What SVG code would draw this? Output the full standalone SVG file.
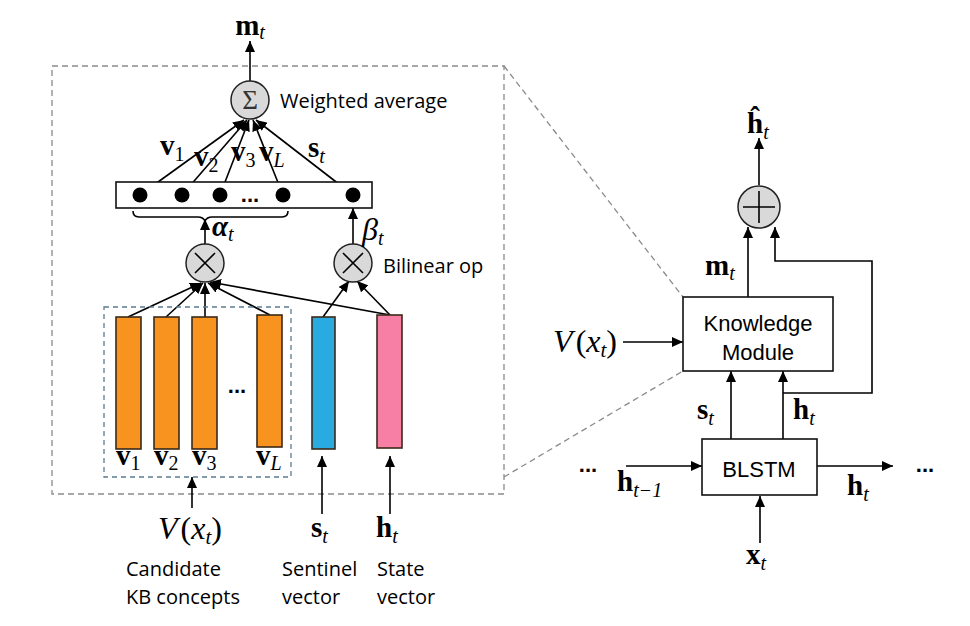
<svg xmlns="http://www.w3.org/2000/svg" width="970" height="626" viewBox="0 0 970 626">
<defs>
<marker id="ah" markerUnits="userSpaceOnUse" markerWidth="11" markerHeight="10" refX="11" refY="5" orient="auto">
<path d="M0,0 L11,5 L0,10 z" fill="#000"/>
</marker>
<style>
.dash{fill:none;stroke:#8a8a8a;stroke-width:1.3;stroke-dasharray:6,4}
.idash{fill:none;stroke:#5b7c93;stroke-width:1.3;stroke-dasharray:5,4}
.ln{fill:none;stroke:#000;stroke-width:1.6}
.ar{fill:none;stroke:#000;stroke-width:1.6;marker-end:url(#ah)}
.op{fill:#d9d9d9;stroke:#222;stroke-width:1.5}
.box{fill:#fff;stroke:#111;stroke-width:1.6}
.bar{stroke:#3b2a1a;stroke-width:1.6}
.sans{font-family:"Open Sans","Liberation Sans",sans-serif;font-size:20px;fill:#000}
.hel{font-family:"Liberation Sans",Arial,sans-serif;font-size:22px;fill:#000}
.m{font-family:"Liberation Serif","DejaVu Serif",serif;font-size:29px;font-weight:bold;fill:#000}
.sub{font-size:20px;font-weight:normal;font-style:italic}
.subn{font-size:20px;font-weight:normal;font-style:normal}
.it{font-family:"Liberation Serif","DejaVu Serif",serif;font-size:32px;font-style:italic;fill:#000}
.rm{font-style:normal}
.dots{font-family:"Liberation Sans",Arial,sans-serif;font-size:22px;font-weight:bold;fill:#000}
</style>
</defs>

<g id="zoom-frame">
<rect class="dash" x="52" y="66" width="452" height="428"/>
<line class="dash" x1="504" y1="66" x2="683" y2="297"/>
<line class="dash" x1="504" y1="477" x2="683" y2="371"/>
</g>

<g id="connectors">
<line class="ar" x1="250" y1="81" x2="250" y2="41"/>
<line class="ar" x1="140" y1="195" x2="244" y2="120"/>
<line class="ar" x1="182" y1="195" x2="247" y2="120"/>
<line class="ar" x1="220" y1="195" x2="249" y2="120"/>
<line class="ar" x1="283" y1="195" x2="253" y2="120"/>
<line class="ar" x1="353" y1="195" x2="256" y2="120"/>
<path class="ln" d="M133,211 Q133,217 139,217 L198,217 Q203,217 205,221 Q207,217 212,217 L282,217 Q288,217 288,211"/>
<line class="ar" x1="205" y1="244" x2="205" y2="219"/>
<line class="ar" x1="353" y1="244" x2="353" y2="208"/>
<line class="ar" x1="128" y1="317" x2="201" y2="283"/>
<line class="ar" x1="166" y1="317" x2="203" y2="283"/>
<line class="ar" x1="205" y1="317" x2="205" y2="283"/>
<line class="ar" x1="270" y1="315" x2="208" y2="283"/>
<line class="ar" x1="390" y1="315" x2="210" y2="282"/>
<line class="ar" x1="323" y1="317" x2="349" y2="281"/>
<line class="ar" x1="390" y1="315" x2="357" y2="281"/>
<line class="ar" x1="192" y1="508" x2="192" y2="477"/>
<line class="ar" x1="322" y1="514" x2="322" y2="456"/>
<line class="ar" x1="390" y1="514" x2="390" y2="456"/>
<line class="ar" x1="759" y1="185" x2="759" y2="138"/>
<line class="ar" x1="748" y1="297" x2="748" y2="227"/>
<polyline class="ar" points="783,393 872,393 872,261 775,261 775,227"/>
<line class="ar" x1="623" y1="342" x2="683" y2="342"/>
<line class="ar" x1="731" y1="439" x2="731" y2="371"/>
<line class="ar" x1="783" y1="439" x2="783" y2="371"/>
<line class="ar" x1="626" y1="466" x2="702" y2="466"/>
<line class="ar" x1="817" y1="466" x2="893" y2="466"/>
<line class="ar" x1="760" y1="543" x2="760" y2="496"/>
</g>

<g id="sigma">
<circle class="op" cx="250" cy="100" r="19"/>
<text x="250" y="109" text-anchor="middle" font-family="Liberation Serif,DejaVu Serif,serif" font-size="27" fill="#333">Σ</text>
<text class="sans" x="280" y="108">Weighted average</text>
</g>
<text class="m" x="250" y="35" text-anchor="middle">m<tspan class="sub" dy="4">t</tspan></text>

<g id="attention-row">
<rect class="box" x="116" y="182" width="256" height="26"/>
<circle cx="140" cy="195" r="7.5"/>
<circle cx="182" cy="195" r="7.5"/>
<circle cx="220" cy="195" r="7.5"/>
<circle cx="283" cy="195" r="7.5"/>
<circle cx="353" cy="195" r="7.5"/>
<text class="dots" x="250" y="202" text-anchor="middle">...</text>
</g>

<g id="weight-labels">
<text class="m" x="160" y="155">v<tspan class="subn" dy="6">1</tspan></text>
<text class="m" x="194" y="166">v<tspan class="subn" dy="6">2</tspan></text>
<text class="m" x="231" y="161">v<tspan class="subn" dy="6">3</tspan></text>
<text class="m" x="259" y="161">v<tspan class="sub" dy="6">L</tspan></text>
<text class="m" x="308" y="157">s<tspan class="sub" dy="6">t</tspan></text>
</g>

<g id="product-alpha">
<circle class="op" cx="205" cy="263" r="19"/>
<path class="ln" d="M195,253 L215,273 M215,253 L195,273" stroke-width="1.8"/>
<text class="m" x="212" y="236" font-style="italic">α<tspan class="sub" dy="5">t</tspan></text>
</g>

<g id="product-beta">
<circle class="op" cx="353" cy="263" r="19"/>
<path class="ln" d="M343,253 L363,273 M363,253 L343,273" stroke-width="1.8"/>
<text class="it" x="362" y="240" font-size="26" fill="#444">β<tspan font-size="20" dy="5">t</tspan></text>
<text class="sans" x="383" y="273">Bilinear op</text>
</g>

<g id="candidates">
<rect class="idash" x="104" y="307" width="187" height="170"/>
<rect class="bar" x="116" y="317" width="25" height="132" fill="#f7931e"/>
<rect class="bar" x="154" y="317" width="25" height="132" fill="#f7931e"/>
<rect class="bar" x="192" y="317" width="25" height="132" fill="#f7931e"/>
<rect class="bar" x="257" y="315" width="25" height="132" fill="#f7931e"/>
<text class="dots" x="237" y="393" text-anchor="middle">...</text>
<text class="m" x="116" y="465">v<tspan class="subn" dy="5">1</tspan></text>
<text class="m" x="154" y="465">v<tspan class="subn" dy="5">2</tspan></text>
<text class="m" x="192" y="465">v<tspan class="subn" dy="5">3</tspan></text>
<text class="m" x="256" y="465">v<tspan class="sub" dy="5">L</tspan></text>
</g>

<g id="sentinel">
<rect class="bar" x="312" y="317" width="23" height="132" fill="#29abe2"/>
</g>
<g id="state">
<rect class="bar" x="377" y="315" width="25" height="133" fill="#f77fa6"/>
</g>

<g id="bottom-labels">
<text class="it" x="190" y="539" text-anchor="middle">V<tspan class="rm" dx="3">(</tspan>x<tspan font-size="21" dy="5">t</tspan><tspan class="rm" dy="-5">)</tspan></text>
<text class="m" x="311" y="537">s<tspan class="sub" dy="6">t</tspan></text>
<text class="m" x="376" y="537">h<tspan class="sub" dy="6">t</tspan></text>
<text class="sans" x="126" y="576">Candidate</text>
<text class="sans" x="126" y="604">KB concepts</text>
<text class="sans" x="282" y="576">Sentinel</text>
<text class="sans" x="282" y="604">vector</text>
<text class="sans" x="377" y="576">State</text>
<text class="sans" x="377" y="604">vector</text>
</g>

<g id="plus">
<circle class="op" cx="759" cy="207" r="21"/>
<path class="ln" d="M743,207 L775,207 M759,191 L759,223" stroke-width="1.8"/>
<text class="m" x="747" y="133">ĥ<tspan class="sub" dy="6">t</tspan></text>
</g>

<g id="knowledge-module">
<rect class="box" x="683" y="297" width="150" height="74"/>
<text class="hel" x="758" y="331" text-anchor="middle">Knowledge</text>
<text class="hel" x="758" y="360" text-anchor="middle">Module</text>
</g>

<g id="blstm">
<rect class="box" x="702" y="439" width="115" height="56"/>
<text class="hel" x="759" y="477" text-anchor="middle">BLSTM</text>
</g>

<g id="right-labels">
<text class="m" x="705" y="275">m<tspan class="sub" dy="5">t</tspan></text>
<text class="it" x="617" y="352" text-anchor="end">V<tspan class="rm" dx="3">(</tspan>x<tspan font-size="21" dy="5">t</tspan><tspan class="rm" dy="-5">)</tspan></text>
<text class="m" x="697" y="419">s<tspan class="sub" dy="6">t</tspan></text>
<text class="m" x="793" y="419">h<tspan class="sub" dy="6">t</tspan></text>
<text class="dots" x="588" y="472" text-anchor="middle">...</text>
<text class="m" x="617" y="491">h<tspan class="sub" dy="6">t−1</tspan></text>
<text class="m" x="847" y="495">h<tspan class="sub" dy="6">t</tspan></text>
<text class="dots" x="925" y="472" text-anchor="middle">...</text>
<text class="m" x="746" y="564">x<tspan class="sub" dy="6">t</tspan></text>
</g>
</svg>
